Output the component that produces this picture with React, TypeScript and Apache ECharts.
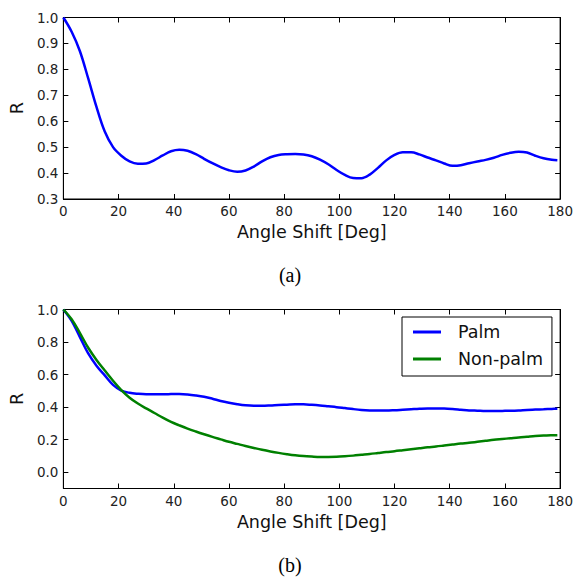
import React, { useEffect, useRef } from "react";
import * as echarts from "echarts";

// (a) correlation vs angle shift
const angleA = [0, 3, 6, 9, 12, 15, 18, 21, 24, 27, 30, 33, 36, 39, 42, 45, 48, 51, 54, 57, 60, 63, 66, 69, 72, 75, 78, 81, 84, 87, 90, 93, 96, 99, 102, 105, 108, 111, 114, 117, 120, 123, 126, 129, 132, 135, 138, 141, 144, 147, 150, 153, 156, 159, 162, 165, 168, 171, 174, 177, 179];
const rA = [1.0, 0.945, 0.87, 0.765, 0.655, 0.56, 0.5, 0.467, 0.445, 0.436, 0.437, 0.45, 0.468, 0.484, 0.49, 0.486, 0.473, 0.455, 0.438, 0.423, 0.411, 0.405, 0.41, 0.425, 0.445, 0.461, 0.47, 0.473, 0.474, 0.472, 0.465, 0.452, 0.434, 0.412, 0.393, 0.381, 0.38, 0.394, 0.42, 0.449, 0.47, 0.48, 0.48, 0.472, 0.46, 0.449, 0.437, 0.428, 0.43, 0.438, 0.445, 0.451, 0.459, 0.47, 0.478, 0.482, 0.479, 0.467, 0.457, 0.451, 0.449];

// (b) palm vs non-palm
const angleB = [0, 3, 6, 9, 12, 15, 18, 21, 24, 27, 30, 33, 36, 39, 42, 45, 48, 51, 54, 57, 60, 63, 66, 69, 72, 75, 78, 81, 84, 87, 90, 93, 96, 99, 102, 105, 108, 111, 114, 117, 120, 123, 126, 129, 132, 135, 138, 141, 144, 147, 150, 153, 156, 159, 162, 165, 168, 171, 174, 177, 179];
const palm = [1.0, 0.93, 0.83, 0.73, 0.655, 0.595, 0.537, 0.502, 0.488, 0.482, 0.479, 0.479, 0.479, 0.48, 0.481, 0.478, 0.472, 0.464, 0.452, 0.438, 0.427, 0.418, 0.411, 0.408, 0.408, 0.41, 0.413, 0.415, 0.417, 0.417, 0.414, 0.41, 0.405, 0.4, 0.394, 0.388, 0.383, 0.38, 0.379, 0.379, 0.381, 0.384, 0.387, 0.39, 0.392, 0.392, 0.391, 0.388, 0.384, 0.38, 0.378, 0.376, 0.376, 0.377, 0.378, 0.38, 0.383, 0.385, 0.387, 0.389, 0.39];
const nonPalm = [1.0, 0.94, 0.855, 0.765, 0.69, 0.625, 0.562, 0.505, 0.458, 0.422, 0.392, 0.364, 0.335, 0.309, 0.288, 0.268, 0.25, 0.233, 0.217, 0.202, 0.187, 0.174, 0.161, 0.149, 0.138, 0.128, 0.119, 0.111, 0.104, 0.099, 0.096, 0.094, 0.094, 0.095, 0.098, 0.102, 0.107, 0.112, 0.118, 0.124, 0.129, 0.135, 0.141, 0.147, 0.153, 0.158, 0.164, 0.17, 0.176, 0.181, 0.187, 0.193, 0.199, 0.204, 0.209, 0.214, 0.218, 0.222, 0.225, 0.227, 0.228];

const xTicks = [0, 20, 40, 60, 80, 100, 120, 140, 160, 180];
const yTicksA = [0.3, 0.4, 0.5, 0.6, 0.7, 0.8, 0.9, 1.0];
const yTicksB = [0.0, 0.2, 0.4, 0.6, 0.8, 1.0];

const xLabel = "Angle Shift [Deg]";
const yLabel = "R";
const captions = ["(a)", "(b)"];
const seriesNames = ["Palm", "Non-palm"];

const FONT = "DejaVu Sans";
const TICK_COLOR = "#222";

function xAxisDef(gridIndex: number, top: boolean) {
  return {
    type: "value",
    gridIndex,
    position: top ? "top" : "bottom",
    min: 0,
    max: 180,
    name: top ? "" : xLabel,
    nameLocation: "middle",
    nameGap: 24,
    nameTextStyle: { fontFamily: FONT, fontSize: 17.5, color: "#111" },
    axisLine: { show: true, onZero: false, lineStyle: { color: "#000", width: 1 } },
    axisTick: { show: true, inside: true, length: 5, customValues: xTicks, lineStyle: { color: "#000" } },
    axisLabel: {
      show: !top,
      customValues: xTicks,
      margin: 5,
      fontFamily: FONT,
      fontSize: 13.5,
      color: TICK_COLOR,
      formatter: (v: number) => String(Math.round(v)),
    },
    splitLine: { show: false },
  };
}

function yAxisDef(gridIndex: number, right: boolean, min: number, max: number, ticks: number[]) {
  return {
    type: "value",
    gridIndex,
    position: right ? "right" : "left",
    min,
    max,
    name: right ? "" : yLabel,
    nameLocation: "middle",
    nameGap: 33,
    nameRotate: 90,
    nameTextStyle: { fontFamily: FONT, fontSize: 17.5, color: "#111" },
    axisLine: { show: true, onZero: false, lineStyle: { color: "#000", width: 1 } },
    axisTick: { show: true, inside: true, length: 5, customValues: ticks, lineStyle: { color: "#000" } },
    axisLabel: {
      show: !right,
      customValues: ticks,
      margin: 5,
      fontFamily: FONT,
      fontSize: 13.5,
      color: TICK_COLOR,
      formatter: (v: number) => v.toFixed(1),
    },
    splitLine: { show: false },
  };
}

export default function App() {
  const ref = useRef<HTMLDivElement>(null);
  useEffect(() => {
    if (!ref.current) return;
    const chart = echarts.init(ref.current, null, { renderer: "svg" });
    const lineBase = { type: "line", smooth: 0.35, showSymbol: false, silent: true };
    const option = {
      animation: false,
      backgroundColor: "#fff",
      grid: [
        { left: 57, top: 17.5, width: 506, height: 181.5, show: true, borderColor: "#000", borderWidth: 1, backgroundColor: "transparent" },
        { left: 63, top: 309.5, width: 499, height: 179, show: true, borderColor: "#000", borderWidth: 1, backgroundColor: "transparent" },
      ],
      xAxis: [xAxisDef(0, false), xAxisDef(0, true), xAxisDef(1, false), xAxisDef(1, true)],
      yAxis: [
        yAxisDef(0, false, 0.3, 1.0, yTicksA),
        yAxisDef(0, true, 0.3, 1.0, yTicksA),
        yAxisDef(1, false, -0.1, 1.0, yTicksB),
        yAxisDef(1, true, -0.1, 1.0, yTicksB),
      ],
      legend: {
        show: true,
        data: seriesNames,
        orient: "vertical",
        left: 402,
        top: 317,
        padding: [6, 9, 8, 11],
        itemGap: 9,
        itemWidth: 28,
        itemHeight: 3,
        icon: "rect",
        borderColor: "#000",
        borderWidth: 1,
        backgroundColor: "#fff",
        textStyle: { fontFamily: FONT, fontSize: 17.5, color: "#111", padding: [0, 0, 0, 12] },
      },
      series: [
        {
          ...lineBase,
          name: "R",
          xAxisIndex: 0,
          yAxisIndex: 0,
          data: angleA.map((a, i) => [a, rA[i]]),
          lineStyle: { color: "#0000ff", width: 2.5 },
          itemStyle: { color: "#0000ff" },
        },
        {
          ...lineBase,
          name: seriesNames[0],
          xAxisIndex: 2,
          yAxisIndex: 2,
          data: angleB.map((a, i) => [a, palm[i]]),
          lineStyle: { color: "#0000ff", width: 2.5 },
          itemStyle: { color: "#0000ff" },
        },
        {
          ...lineBase,
          name: seriesNames[1],
          xAxisIndex: 2,
          yAxisIndex: 2,
          data: angleB.map((a, i) => [a, nonPalm[i]]),
          lineStyle: { color: "#008000", width: 2.5 },
          itemStyle: { color: "#008000" },
        },
        // empty series so the mirrored top/right axes (inner ticks) are rendered
        { ...lineBase, name: "_a", xAxisIndex: 1, yAxisIndex: 1, data: [] },
        { ...lineBase, name: "_b", xAxisIndex: 3, yAxisIndex: 3, data: [] },
      ],
      graphic: [
        {
          type: "text",
          x: 290,
          y: 275,
          style: { text: captions[0], fontFamily: "Liberation Serif", fontSize: 20, fill: "#000", align: "center", verticalAlign: "middle" },
        },
        {
          type: "text",
          x: 290,
          y: 565,
          style: { text: captions[1], fontFamily: "Liberation Serif", fontSize: 20, fill: "#000", align: "center", verticalAlign: "middle" },
        },
      ],
    };
    chart.setOption(option as any);
    return () => chart.dispose();
  }, []);
  return (
    <div
      ref={ref}
      style={{ position: "absolute", left: 0, top: 0, width: 576, height: 579, background: "#fff" }}
    />
  );
}
